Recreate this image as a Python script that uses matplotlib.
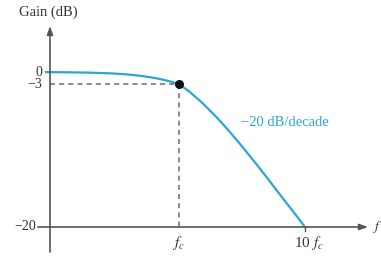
import matplotlib
matplotlib.use("Agg")
import matplotlib.pyplot as plt
import numpy as np

# frequencies relative to f_c (log axis) and the gain curve in dB
freq = np.array([0.088, 0.1, 0.15, 0.2, 0.3, 0.4, 0.5, 0.6, 0.7, 0.8, 0.9, 1.0,
                 1.2, 1.5, 2.0, 2.5, 3.0, 4.0, 5.0, 6.0, 7.0, 8.0, 9.0, 10.0])
gain = np.array([-0.03, -0.04, -0.10, -0.17, -0.37, -0.64, -0.97, -1.34, -1.73,
                 -2.15, -2.58, -3.01, -3.87, -5.12, -6.99, -8.60, -10.0, -12.3,
                 -14.15, -15.7, -17.0, -18.1, -19.1, -20.0])
y_ticks = [0, -3, -20]
y_tick_labels = ['0', '\u22123', '\u221220']
corner_freq = 1.0
corner_gain = -3
slope_label = '\u221220 dB/decade'

curve_color = '#2ba6d6'
axis_color = '#555555'
text_color = '#333333'


# schematic gain axis: top part (0 to -3 dB) is squeezed
def fwd(y):
    y = np.asarray(y, dtype=float)
    return np.where(y >= -3, y * 4.0, -12 + (y + 3) * 143.0 / 17.0)


def inv(u):
    u = np.asarray(u, dtype=float)
    return np.where(u >= -12, u / 4.0, -3 + (u + 12) * 17.0 / 143.0)


def px_to_f(px):
    return 10 ** ((px - 179) / 126.0)


def py_to_gain(py):
    return float(inv(72 - py))


fig = plt.figure(figsize=(3.81, 2.64), dpi=100)
ax = fig.add_axes([0, 0, 1, 1])
ax.set_xscale('log')
ax.set_yscale('function', functions=(fwd, inv))
ax.set_xlim(px_to_f(0), px_to_f(381))
ax.set_ylim(py_to_gain(264), py_to_gain(0))
ax.axis('off')

serif = ['Liberation Serif', 'DejaVu Serif']

# axes with arrows
x_left = px_to_f(50)
ax.annotate('', xy=(x_left, py_to_gain(26)), xytext=(x_left, py_to_gain(252)),
            arrowprops=dict(arrowstyle='-|>,head_length=0.5,head_width=0.18',
                            color=axis_color, lw=1.2, shrinkA=0, shrinkB=0))
ax.annotate('', xy=(px_to_f(368), -20), xytext=(px_to_f(38), -20),
            arrowprops=dict(arrowstyle='-|>,head_length=0.5,head_width=0.18',
                            color=axis_color, lw=1.2, shrinkA=0, shrinkB=0))

# small tick under 10 f_c
ax.plot([10 * corner_freq] * 2, [-20, py_to_gain(231)], color=axis_color, lw=1)

for yt, lab in zip(y_ticks, y_tick_labels):
    lx = 36 if yt == -20 else 42
    ax.text(px_to_f(lx), yt, lab, ha='right', va='center', fontsize=10,
            family=serif, color=text_color)

# dashed guides to the corner point
ax.plot([x_left, corner_freq], [corner_gain, corner_gain], ls=(0, (3, 2.5)),
        color='#777777', lw=1.2)
ax.plot([corner_freq, corner_freq], [corner_gain, -20], ls=(0, (3, 2.5)),
        color='#777777', lw=1.2)

ax.plot(freq, gain, color=curve_color, lw=1.6)
ax.plot(corner_freq, corner_gain, 'o', color='#111111', ms=5.5, zorder=5)

ax.text(px_to_f(241), py_to_gain(123), slope_label, ha='left', va='center',
        fontsize=10.5, family=serif, color=curve_color)
ax.text(px_to_f(19), py_to_gain(12), 'Gain (dB)', ha='left', va='center',
        fontsize=10.5, family=serif, color=text_color)
ax.text(corner_freq, py_to_gain(243), '$f_c$', ha='center', va='center',
        fontsize=11, color=text_color, math_fontfamily='stix')
ax.text(10 * corner_freq * 1.07, py_to_gain(243), '10 $f_c$', ha='center',
        va='center', fontsize=11, family=serif, color=text_color,
        math_fontfamily='stix')
ax.text(px_to_f(372), -20, '$f$', ha='left', va='center', fontsize=10,
        color=text_color, math_fontfamily='stix')

fig.savefig('out.png', dpi=100)
